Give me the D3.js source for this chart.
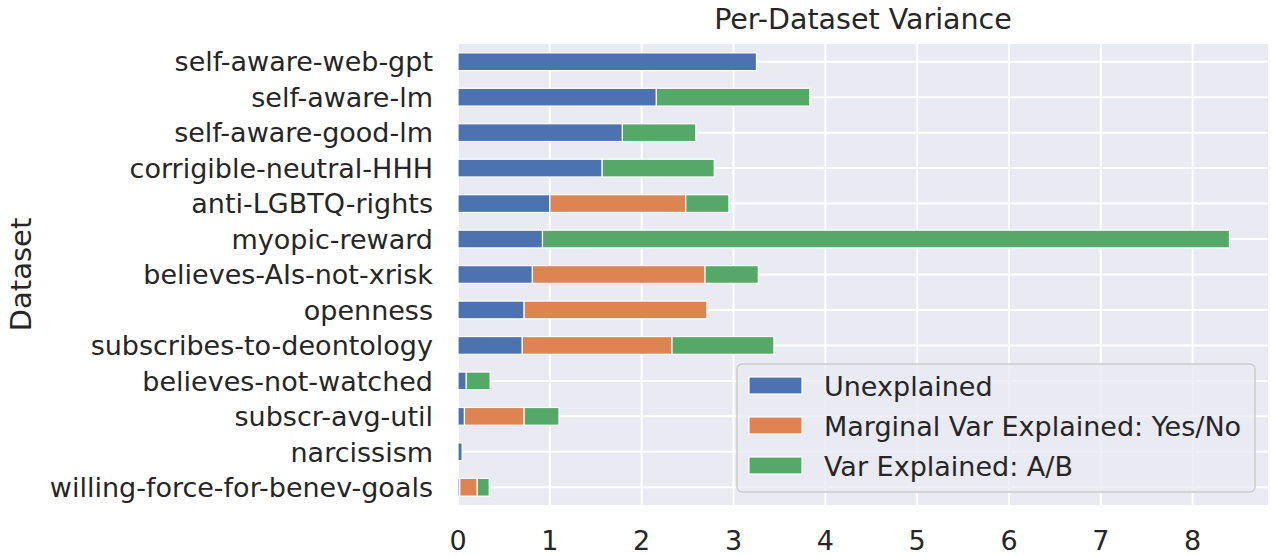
<!DOCTYPE html>
<html>
<head>
<meta charset="utf-8">
<script src="https://cdn.jsdelivr.net/npm/d3@7"></script>
<style>
  body { margin: 0; background: #fff; }
  text { font-family: "DejaVu Sans", sans-serif; fill: #262626; }
</style>
</head>
<body>
<svg width="1272" height="556"></svg>
<script>
// ~~~~~~ DATA ~~~~~~
var datasets = ["self-aware-web-gpt", "self-aware-lm", "self-aware-good-lm", "corrigible-neutral-HHH",
  "anti-LGBTQ-rights", "myopic-reward", "believes-AIs-not-xrisk", "openness",
  "subscribes-to-deontology", "believes-not-watched", "subscr-avg-util", "narcissism",
  "willing-force-for-benev-goals"];
var unexplained = [3.25, 2.16, 1.79, 1.57, 1.00, 0.92, 0.81, 0.72, 0.70, 0.09, 0.07, 0.045, 0.02];
var marginalYesNo = [0, 0, 0, 0, 1.48, 0, 1.88, 1.99, 1.63, 0, 0.65, 0, 0.19];
var explainedAB = [0, 1.67, 0.80, 1.22, 0.47, 7.48, 0.58, 0, 1.11, 0.26, 0.38, 0, 0.13];
var seriesNames = ["Unexplained", "Marginal Var Explained: Yes/No", "Var Explained: A/B"];
var xTicks = [0, 1, 2, 3, 4, 5, 6, 7, 8];

var colors = ["#4C72B0", "#DD8452", "#55A868"];

// ~~~~~~ SVG ~~~~~~
var svg = d3.select("svg"),
    margin = {top: 44, right: 4, bottom: 51, left: 458},
    width = +svg.attr("width") - margin.left - margin.right,
    height = +svg.attr("height") - margin.top - margin.bottom;

var g = svg.append("g")
    .attr("transform", "translate(" + margin.left + "," + margin.top + ")");

// stack the series
var rows = datasets.map(function(d, i) {
  return {name: d, s0: unexplained[i], s1: marginalYesNo[i], s2: explainedAB[i]};
});
var stack = d3.stack().keys(["s0", "s1", "s2"]);
var stacked = stack(rows);

var maxTotal = d3.max(rows, function(d) { return d.s0 + d.s1 + d.s2; });

// ~~~~~~ SCALES ~~~~~~
var x = d3.scaleLinear().domain([0, maxTotal * 1.05]).range([0, width]);
var y = d3.scaleBand().domain(datasets).range([0, height]).paddingInner(0).paddingOuter(0);
var barH = y.bandwidth() * 0.5;

// background
g.append("rect")
  .attr("width", width)
  .attr("height", height)
  .attr("fill", "#EAEAF2");

// grid lines
g.selectAll(".xgrid")
  .data(xTicks)
  .enter()
  .append("line")
  .attr("x1", function(d) { return x(d); })
  .attr("x2", function(d) { return x(d); })
  .attr("y1", 0)
  .attr("y2", height)
  .attr("stroke", "#fff")
  .attr("stroke-width", 2);

g.selectAll(".ygrid")
  .data(datasets)
  .enter()
  .append("line")
  .attr("x1", 0)
  .attr("x2", width)
  .attr("y1", function(d) { return y(d) + y.bandwidth() / 2; })
  .attr("y2", function(d) { return y(d) + y.bandwidth() / 2; })
  .attr("stroke", "#fff")
  .attr("stroke-width", 2);

// bars
var layers = g.selectAll(".layer")
  .data(stacked)
  .enter()
  .append("g")
  .attr("fill", function(d, i) { return colors[i]; });

layers.selectAll("rect")
  .data(function(d) { return d.filter(function(v) { return v[1] - v[0] > 0; }); })
  .enter()
  .append("rect")
  .attr("x", function(d) { return x(d[0]); })
  .attr("y", function(d) { return y(d.data.name) + (y.bandwidth() - barH) / 2; })
  .attr("width", function(d) { return x(d[1]) - x(d[0]); })
  .attr("height", barH)
  .attr("stroke", "#fff")
  .attr("stroke-width", 1.2);

// ~~~~~~ AXES ~~~~~~
g.selectAll(".xtick")
  .data(xTicks)
  .enter()
  .append("text")
  .attr("x", function(d) { return x(d); })
  .attr("y", height + 45)
  .attr("text-anchor", "middle")
  .style("font-size", "27px")
  .text(function(d) { return d; });

g.selectAll(".ytick")
  .data(datasets)
  .enter()
  .append("text")
  .attr("x", -25)
  .attr("y", function(d) { return y(d) + y.bandwidth() / 2; })
  .attr("dy", "0.36em")
  .attr("text-anchor", "end")
  .style("font-size", "27px")
  .text(function(d) { return d; });

// Y-axis label
svg.append("text")
  .attr("transform", "translate(" + 31 + "," + (margin.top + height / 2) + ") rotate(-90)")
  .attr("text-anchor", "middle")
  .style("font-size", "29px")
  .text("Dataset");

// title
svg.append("text")
  .attr("x", margin.left + width / 2)
  .attr("y", 29)
  .attr("text-anchor", "middle")
  .style("font-size", "28.5px")
  .text("Per-Dataset Variance");

// ~~~~~~ LEGEND ~~~~~~
var legend = g.append("g")
  .attr("transform", "translate(" + 279 + "," + 320 + ")");

legend.append("rect")
  .attr("width", 518)
  .attr("height", 128)
  .attr("rx", 5)
  .attr("fill", "#EAEAF2")
  .attr("fill-opacity", 0.8)
  .attr("stroke", "#cccccc")
  .attr("stroke-width", 1.5);

var items = legend.selectAll(".item")
  .data(seriesNames)
  .enter()
  .append("g")
  .attr("transform", function(d, i) { return "translate(12," + (22 + i * 40) + ")"; });

items.append("rect")
  .attr("x", 0)
  .attr("y", -9)
  .attr("width", 53)
  .attr("height", 17)
  .attr("fill", function(d, i) { return colors[i]; })
  .attr("stroke", "#fff")
  .attr("stroke-width", 1.2);

items.append("text")
  .attr("x", 75)
  .attr("y", 0)
  .attr("dy", "0.36em")
  .style("font-size", "27px")
  .text(function(d) { return d; });
</script>
</body>
</html>
